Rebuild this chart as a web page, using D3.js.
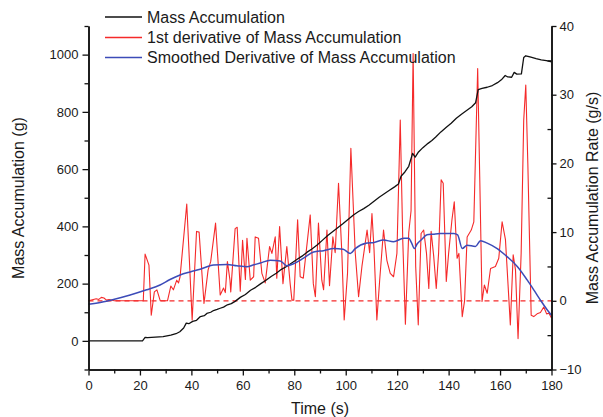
<!DOCTYPE html>
<html><head><meta charset="utf-8">
<script src="https://cdn.jsdelivr.net/npm/d3@7"></script>
<style>
body{margin:0;background:#fff}
svg{display:block}
text{font-family:"Liberation Sans",Arial,Helvetica,sans-serif;fill:#1a1a1a}
</style>
</head><body>
<svg id="c" width="603" height="417"></svg>
<script>
// ---- data ----
const massTime = [0,21,22,23,26,29,32,34,35.5,37,38,39,40.5,42,43.5,45,46,47.5,48.6,50,51.2,52.5,54,55.5,57,58,59,61,63,65,67,69,71,73,75,77,79,81,83,85,87,89,91,93,95,97,99,101,103,105,107,109,111,113,115,117,119,120.5,121.5,123,124.5,126,127,128.3,130,132,133.5,135,137,139,141,143,145,147,149,150.5,151.5,153,155,157,159,160.5,162,163,164.5,165.5,166.5,168.3,169.2,170,172,174,176,178,180];
const massValues = [0,0,12,11,13,15,20,25,32,45,62,60,68,72,85,88,96,100,106,110,114,118,126,130,138,145,152,162,177,187,200,212,225,236,250,260,272,284,296,310,322,336,352,368,382,396,410,425,440,452,462,474,488,502,514,526,538,548,575,590,610,655,642,660,675,690,700,712,730,745,760,778,792,805,818,832,878,882,886,892,902,912,927,922,921,938,932,933,990,996,991,986,982,979,975];

const rateTime = [0,3,4,5,6,7,8,10,21.3,22,23.5,24.4,25.6,26.6,27.9,30.7,32,33,34.3,35,35.6,38.2,40.3,42,43,44.9,46.5,47.5,49.4,51.2,52.5,53.2,54,55,55.3,57,57.8,59,59.9,61,61.6,62.9,64.2,64.8,66.1,67.4,68.7,70.4,71.3,72.6,73.2,74.3,75.6,77.1,78.4,79.1,79.8,81.3,82.3,83.5,86.2,87.4,88.2,89.4,90.7,91.4,92.7,93.7,95,95.9,97.2,98.5,99.4,100.7,102,103.7,105,106.3,108.3,109.3,110.2,111,112.1,113.2,114.7,116,117.3,118.6,119.9,121.2,122.2,123.2,124.5,125.4,126.2,127.2,128.2,129.3,130.3,131.4,132.3,133.2,134.2,135.2,136.1,137.1,137.9,139.1,140,141.3,142.2,143.3,144,145.3,146.2,147.2,148.8,149.8,151.3,152.1,153,153.9,155,156.3,158.2,159.5,160.8,162.1,164,165.1,166,167,168.2,169.2,170,170.8,172.1,173.1,174.4,175.7,177,178.1,179,180];
const rateValues = [0,0.3,0.2,0.5,0.4,0.1,0.2,0,0,6.8,5.2,-2.1,1.3,1.6,0,0,2.15,1.6,3.0,2.6,3.5,14.1,-2.8,10.1,10.0,-0.4,4.5,5.7,11.3,0.85,1.85,1.2,5.7,3,1.3,10.5,10.7,1.4,8.8,3.1,9.1,3.0,3.5,9.3,9.1,4,2.6,7.9,6.9,9.3,3.3,10.8,2.5,7.9,2.5,0.1,0.1,11.8,3.5,3.3,12.5,2.5,0.6,11.3,3,1.6,10.3,2.2,9.3,7,17.1,6.9,-2.8,4,22.2,7,0.6,5,10.3,7,12.7,7.5,-2.8,3,10.3,5.9,4,3.5,6.9,26.3,8.5,-3.4,9.9,13.1,36,5,-3.5,9.8,10.3,6.9,1.8,10.1,6.5,1.8,6.9,17.6,17.1,2.8,6.9,11.8,14.4,6.2,6.9,-2.3,0,9.3,10.3,11.5,33.8,18,-0.1,2.3,1.1,4.7,5,6.2,11.5,8.9,-3.5,6.7,4.5,-5.5,6.9,26.3,31.4,20,-2.1,-2.3,-1.9,-1.7,-0.9,-1.9,-1.8,-2.5];

const smoothTime = [0,5,9.7,16.2,22.6,27.8,31.7,35.6,39.5,43.4,48.6,53.8,57.7,61.6,64,66.8,70.7,74.5,77.1,79.7,83.6,87.5,91.4,95.3,99,101.8,103.7,108.3,111,114.7,118.6,122.5,124.5,125.5,126.7,127.8,129.3,131.6,134,136.8,142,143.5,145.3,147.2,150.4,152.4,155,158.9,162.8,166.7,170.6,173.1,175.7,178.3,180];
const smoothValues = [-0.5,-0.2,0.2,0.85,1.6,2.3,3.1,3.75,4.2,4.6,5.2,5.3,5.1,4.95,5.2,5.5,5.9,5.8,5.1,5.4,6.2,7.1,7.3,7.6,7.5,6.9,7.6,8.4,8.5,8.85,8.6,9.1,9.1,8.5,7.6,8.3,8.85,9.6,9.7,9.8,9.8,9.6,7.6,8.1,7.9,8.75,8.4,7.6,6.4,5.0,3.0,1.6,0.1,-1.3,-2.1];

const xMajor = [0,20,40,60,80,100,120,140,160,180];
const xMinor = [10,30,50,70,90,110,130,150,170];
const yLeftMajor = [0,200,400,600,800,1000];
const yLeftMinor = [-100,100,300,500,700,900,1100];
const yRightMajor = [-10,0,10,20,30,40];
const yRightMinor = [-5,5,15,25,35];
const legendLabels = ["Mass Accumulation","1st derivative of Mass Accumulation","Smoothed Derivative of Mass Accumulation"];
const colors = ["#111111","#f52a2a","#3c4bb8"];

// ---- drawing ----
const svg = d3.select("#c");
const x = d3.scaleLinear().domain([0,180]).range([88.5,551.5]);
const yL = d3.scaleLinear().domain([-100,1100]).range([369.5,26]);
const yR = d3.scaleLinear().domain([-10,40]).range([369.5,26]);

function styleAxis(g){
  g.selectAll("path.domain").attr("stroke","#111").attr("stroke-width",1.5);
  g.selectAll(".tick line").attr("stroke","#111").attr("stroke-width",1.3);
  g.selectAll("text").attr("font-size",13).attr("fill","#1a1a1a")
    .attr("font-family","'Liberation Sans',Arial,sans-serif");
}

// dashed zero line (right axis)
svg.append("line")
  .attr("x1",x(0)).attr("x2",x(180))
  .attr("y1",yR(0)).attr("y2",yR(0))
  .attr("stroke",colors[1]).attr("stroke-width",1.2)
  .attr("stroke-dasharray","5,4");

const lineMass = d3.line().x((d,i)=>x(massTime[i])).y(d=>yL(d));
const lineRate = d3.line().x((d,i)=>x(rateTime[i])).y(d=>yR(d));
const lineSmooth = d3.line().x((d,i)=>x(smoothTime[i])).y(d=>yR(d)).curve(d3.curveMonotoneX);

svg.append("path").attr("d",lineRate(rateValues)).attr("fill","none")
  .attr("stroke",colors[1]).attr("stroke-width",1.1).attr("stroke-linejoin","round");
svg.append("path").attr("d",lineMass(massValues)).attr("fill","none")
  .attr("stroke",colors[0]).attr("stroke-width",1.3).attr("stroke-linejoin","round");
svg.append("path").attr("d",lineSmooth(smoothValues)).attr("fill","none")
  .attr("stroke",colors[2]).attr("stroke-width",1.5);

// axes
const gxm = svg.append("g").attr("transform","translate(0,369.5)")
  .call(d3.axisBottom(x).tickValues(xMinor).tickSize(4).tickFormat("").tickSizeOuter(0));
styleAxis(gxm);
const gx = svg.append("g").attr("transform","translate(0,369.5)")
  .call(d3.axisBottom(x).tickValues(xMajor).tickSize(6).tickPadding(5).tickSizeOuter(0).tickFormat(d3.format("d")));
styleAxis(gx);

const glm = svg.append("g").attr("transform","translate(88.5,0)")
  .call(d3.axisLeft(yL).tickValues(yLeftMinor).tickSize(4).tickFormat("").tickSizeOuter(0));
styleAxis(glm);
const gl = svg.append("g").attr("transform","translate(88.5,0)")
  .call(d3.axisLeft(yL).tickValues(yLeftMajor).tickSize(6).tickPadding(4).tickSizeOuter(0).tickFormat(d3.format("d")));
styleAxis(gl);

const grm = svg.append("g").attr("transform","translate(551.5,0)")
  .call(d3.axisRight(yR).tickValues(yRightMinor).tickSize(-4).tickFormat("").tickSizeOuter(0));
styleAxis(grm);
const gr = svg.append("g").attr("transform","translate(551.5,0)")
  .call(d3.axisRight(yR).tickValues(yRightMajor).tickSize(5).tickPadding(3).tickSizeOuter(0).tickFormat(d3.format("d")));
styleAxis(gr);

// axis titles
svg.append("text").attr("x",320).attr("y",414).attr("text-anchor","middle")
  .attr("font-size",16).text("Time (s)");
svg.append("text").attr("transform","translate(24,198) rotate(-90)")
  .attr("text-anchor","middle").attr("font-size",16).text("Mass Accumulation (g)");
svg.append("text").attr("transform","translate(598,198) rotate(-90)")
  .attr("text-anchor","middle").attr("font-size",16).text("Mass Accumulation Rate (g/s)");

// legend
const legendY = [17,37.5,57.5];
legendLabels.forEach((lab,i)=>{
  svg.append("line").attr("x1",105).attr("x2",142).attr("y1",legendY[i]).attr("y2",legendY[i])
    .attr("stroke",colors[i]).attr("stroke-width",1.3);
  svg.append("text").attr("x",147).attr("y",legendY[i]+5.5).attr("font-size",16).text(lab);
});
</script>
</body></html>
